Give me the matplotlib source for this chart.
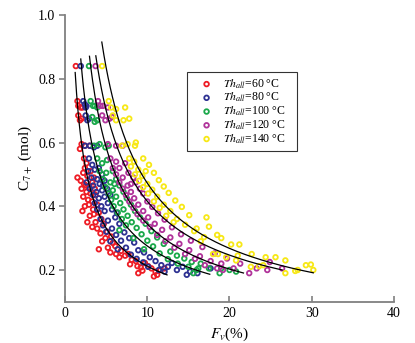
import numpy as np
import matplotlib
matplotlib.use("Agg")
import matplotlib.pyplot as plt

plt.rcParams['font.family'] = ['Liberation Serif', 'DejaVu Serif']
plt.rcParams['mathtext.fontset'] = 'stix'

# scatter data: (Fv %, C7+ mol)
red = [(1.3,0.84),(1.5,0.73),(1.6,0.715),(1.9,0.71),(2.1,0.71),(1.6,0.685),(1.8,0.67),(2.0,0.675),
       (2.0,0.595),(2.4,0.59),(1.8,0.58),(3.0,0.59),(2.3,0.55),(2.6,0.535),(2.4,0.52),(2.2,0.505),
       (1.5,0.49),(1.9,0.48),(2.7,0.495),(3.1,0.51),(2.3,0.47),(2.9,0.46),(3.3,0.475),(2.0,0.455),
       (2.6,0.445),(3.1,0.44),(3.6,0.455),(2.2,0.43),(2.8,0.42),(3.3,0.415),(3.7,0.435),(2.4,0.40),
       (2.9,0.405),(3.4,0.39),(2.1,0.385),(3.9,0.405),(3.0,0.37),(3.5,0.375),(4.1,0.38),(2.7,0.35),
       (3.7,0.35),(4.4,0.36),(3.3,0.335),(3.9,0.33),(4.7,0.345),(4.3,0.315),(5.1,0.32),(4.9,0.30),
       (5.6,0.305),(4.5,0.29),(5.8,0.285),(5.2,0.27),(6.1,0.275),(4.1,0.265),(5.5,0.255),(6.2,0.25),
       (6.8,0.26),(7.3,0.245),(6.6,0.24),(7.7,0.25),(8.1,0.232),(8.6,0.228),(7.9,0.218),(8.8,0.212),
       (9.2,0.208),(9.7,0.222),(9.4,0.198),(10.1,0.212),(8.9,0.19),(10.5,0.205),(11.0,0.195),
       (11.2,0.185),(11.6,0.20),(12.1,0.205),(10.8,0.18),(3.5,0.49),(2.5,0.465)]
blue = [(1.9,0.84),(2.2,0.73),(2.5,0.71),(2.4,0.72),(2.6,0.715),(2.5,0.685),(2.7,0.67),(2.9,0.675),
        (2.4,0.59),(3.0,0.59),(3.5,0.585),(3.9,0.59),(2.9,0.55),(3.3,0.53),(2.8,0.51),(3.6,0.515),
        (4.1,0.52),(3.2,0.49),(3.9,0.485),(4.5,0.50),(2.6,0.475),(3.4,0.465),(4.2,0.47),(4.8,0.48),
        (3.0,0.455),(3.8,0.445),(4.5,0.45),(5.1,0.455),(3.4,0.435),(4.1,0.425),(4.8,0.43),(5.5,0.435),
        (3.6,0.41),(4.4,0.40),(5.2,0.41),(3.9,0.39),(4.8,0.385),(5.7,0.39),(6.3,0.38),(4.3,0.36),
        (5.2,0.355),(6.1,0.365),(4.6,0.34),(5.7,0.33),(6.6,0.345),(5.0,0.32),(6.2,0.31),(7.2,0.318),
        (6.8,0.292),(7.8,0.30),(5.5,0.29),(8.4,0.286),(7.4,0.27),(6.4,0.265),(8.9,0.262),(8.0,0.248),
        (9.6,0.255),(8.7,0.235),(10.3,0.24),(9.5,0.224),(11.0,0.228),(11.7,0.215),(10.1,0.21),
        (12.5,0.21),(11.4,0.20),(13.0,0.222),(12.1,0.195),(13.6,0.20),(14.8,0.185),(15.2,0.195),
        (16.1,0.19),(14.3,0.21),(17.7,0.205),(4.6,0.465)]
green = [(2.9,0.84),(3.1,0.73),(3.6,0.715),(3.4,0.715),(3.9,0.71),(3.3,0.68),(3.6,0.665),(3.9,0.67),
         (3.5,0.59),(4.2,0.595),(4.9,0.585),(5.3,0.59),(3.9,0.55),(4.5,0.535),(5.1,0.545),(4.2,0.51),
         (5.0,0.505),(5.8,0.51),(4.6,0.485),(5.5,0.475),(6.2,0.485),(4.9,0.46),(5.8,0.45),(6.6,0.465),
         (5.3,0.44),(6.2,0.43),(7.1,0.445),(5.6,0.42),(6.7,0.41),(7.5,0.425),(5.9,0.40),(7.1,0.39),
         (8.0,0.405),(6.4,0.38),(7.6,0.37),(8.5,0.385),(6.9,0.36),(8.1,0.35),(9.1,0.365),(7.4,0.34),
         (8.7,0.332),(9.8,0.345),(6.6,0.325),(9.3,0.312),(10.5,0.322),(8.3,0.30),(10.0,0.292),(11.2,0.302),
         (10.7,0.274),(12.0,0.282),(9.6,0.265),(12.8,0.258),(11.5,0.252),(13.6,0.245),(12.5,0.234),
         (14.5,0.236),(15.4,0.225),(13.7,0.22),(16.5,0.22),(15.0,0.21),(17.5,0.205),(16.0,0.20),
         (18.8,0.19),(19.0,0.205),(20.0,0.20),(15.6,0.19),(16.2,0.205),(20.8,0.195),(6.0,0.47)]
purple = [(3.7,0.84),(4.0,0.73),(4.6,0.715),(4.3,0.715),(5.2,0.71),(4.5,0.685),(4.9,0.67),(5.4,0.675),
          (5.7,0.68),(5.2,0.595),(6.2,0.59),(7.0,0.59),(5.5,0.55),(6.2,0.54),(5.8,0.52),(6.6,0.52),
          (7.3,0.535),(6.2,0.50),(7.0,0.49),(7.7,0.505),(8.3,0.49),(6.6,0.475),(7.6,0.465),(8.6,0.475),
          (7.0,0.455),(8.0,0.445),(9.1,0.455),(7.4,0.435),(8.4,0.425),(9.5,0.44),(7.8,0.415),(8.9,0.405),
          (10.0,0.415),(8.3,0.395),(9.5,0.385),(10.6,0.398),(8.8,0.375),(10.1,0.365),(11.3,0.378),
          (9.5,0.355),(10.9,0.345),(12.1,0.358),(10.3,0.335),(11.8,0.326),(13.0,0.334),(11.2,0.31),
          (12.8,0.302),(14.1,0.312),(12.2,0.29),(13.9,0.282),(15.3,0.292),(13.3,0.27),(15.1,0.262),
          (16.7,0.272),(14.6,0.25),(16.4,0.243),(18.2,0.252),(15.8,0.235),(17.7,0.228),(19.7,0.236),
          (17.0,0.215),(19.0,0.22),(21.3,0.22),(20.5,0.205),(22.4,0.19),(23.3,0.205),(24.6,0.20),
          (26.4,0.205),(24.9,0.225),(18.5,0.205),(19.2,0.20),(8.0,0.47)]
yellow = [(4.5,0.84),(5.3,0.73),(5.6,0.71),(6.2,0.705),(5.8,0.685),(7.3,0.71),(6.2,0.67),(7.1,0.67),
          (7.8,0.675),(6.9,0.59),(7.6,0.595),(8.5,0.59),(8.6,0.60),(7.8,0.55),(8.4,0.54),(9.5,0.55),
          (8.0,0.525),(8.9,0.515),(10.2,0.53),(8.5,0.50),(9.4,0.495),(10.8,0.505),(9.0,0.48),(10.0,0.47),
          (11.4,0.482),(9.5,0.46),(10.6,0.452),(12.0,0.462),(10.1,0.44),(11.2,0.43),(12.6,0.442),
          (10.8,0.415),(12.0,0.405),(13.4,0.418),(11.5,0.395),(12.8,0.385),(14.2,0.398),(12.3,0.37),
          (13.6,0.36),(15.1,0.372),(13.2,0.35),(14.6,0.342),(17.2,0.365),(16.0,0.33),(17.5,0.336),
          (15.7,0.322),(18.5,0.31),(16.9,0.303),(19.0,0.30),(16.5,0.29),(20.2,0.28),(21.2,0.28),
          (18.0,0.25),(18.6,0.25),(19.6,0.24),(21.0,0.245),(24.4,0.24),(25.6,0.24),(26.8,0.23),
          (20.8,0.23),(22.6,0.21),(23.6,0.212),(24.1,0.215),(26.8,0.19),(28.0,0.197),(29.3,0.215),
          (29.9,0.217),(30.2,0.20),(28.3,0.20),(22.7,0.25),(9.8,0.51)]

series = [red, blue, green, purple, yellow]
colors = ['#ee1c25', '#2e3192', '#1aa84a', '#b0339a', '#f7e816']
labels = [r'$Th_{all}$=60 °C', r'$Th_{all}$=80 °C', r'$Th_{all}$=100 °C',
          r'$Th_{all}$=120 °C', r'$Th_{all}$=140 °C']

# points
curve_F = [[1.22, 2.1, 4.0, 12.4], [1.9, 4.0, 10.0, 17.6], [2.96, 6.0, 12.0, 21.7],
           [3.73, 8.0, 15.0, 26.4], [4.46, 10.0, 15.8, 30.2]]
curve_C = [[0.82, 0.58, 0.38, 0.185], [0.866, 0.51, 0.28, 0.185], [0.868, 0.51, 0.30, 0.19],
           [0.873, 0.49, 0.307, 0.2], [0.913, 0.472, 0.328, 0.19]]

fig = plt.figure(figsize=(4.15, 3.43), dpi=100)
ax = fig.add_axes([0.157, 0.12, 0.792, 0.836])

for pts, c, lab in zip(series, colors, labels):
    pts = np.array(pts)
    ax.scatter(pts[:, 0], pts[:, 1], s=11, facecolors='none', edgecolors=c,
               linewidths=1.3, label=lab, zorder=2)

# power-law trend lines fitted through the read curve points
for fx, fy in zip(curve_F, curve_C):
    k, b = np.polyfit(np.log(fx), np.log(fy), 1)
    xx = np.linspace(fx[0], fx[-1], 200)
    ax.plot(xx, np.exp(b) * xx ** k, color='black', lw=0.9, zorder=3)

ax.set_xlim(0, 40)
ax.set_ylim(0.1, 1.0)
ax.set_xticks([0, 10, 20, 30, 40])
ax.set_yticks([0.2, 0.4, 0.6, 0.8, 1.0])
ax.set_yticklabels(['0.2', '0.4', '0.6', '0.8', '1.0'])

for s in ['top', 'right']:
    ax.spines[s].set_visible(False)
for s in ['left', 'bottom']:
    ax.spines[s].set_color('#808080')
    ax.spines[s].set_linewidth(1.3)
ax.tick_params(axis='x', direction='in', length=4, width=1.2, color='#808080', labelsize=10, pad=4)
ax.tick_params(axis='y', direction='out', length=4, width=1.2, color='#808080', labelsize=10, pad=3)

ax.set_xlabel(r'$F_{v}$(%)', fontsize=11, labelpad=4)
ax.set_ylabel(r'C$_{7+}$ (mol)', fontsize=11, labelpad=3)

leg = ax.legend(loc='upper left', bbox_to_anchor=(0.371, 0.52, 0.334, 0.282), mode='expand',
                borderaxespad=0, fontsize=8.5, frameon=True, fancybox=False, edgecolor='black',
                handletextpad=0.15, borderpad=0.45, labelspacing=0.02, handlelength=2.4,
                scatterpoints=1)
leg.get_frame().set_linewidth(0.8)

fig.savefig('out.png', dpi=100)
